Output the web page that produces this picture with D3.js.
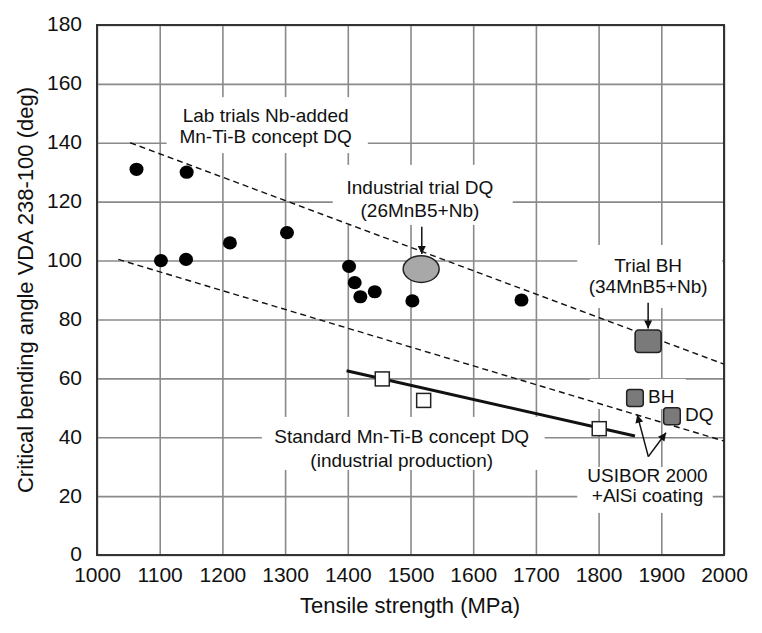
<!DOCTYPE html>
<html>
<head>
<meta charset="utf-8">
<script src="https://cdn.jsdelivr.net/npm/d3@7"></script>
<style>
  body { margin: 0; background: #fff; }
  svg text { font-family: "Liberation Sans", Arial, sans-serif; fill: #111; }
</style>
</head>
<body>
<svg width="762" height="633"></svg>
<script>
// axis ticks
var xTicks = [1000, 1100, 1200, 1300, 1400, 1500, 1600, 1700, 1800, 1900, 2000];
var yTicks = [0, 20, 40, 60, 80, 100, 120, 140, 160, 180];

// lab trials, Nb-added Mn-Ti-B concept DQ (black dots)
var labStrength = [1063, 1143, 1102, 1142, 1212, 1303, 1402, 1411, 1420, 1443, 1503, 1677];
var labAngle    = [131, 130, 100, 100.4, 106, 109.5, 98, 92.5, 87.7, 89.4, 86.3, 86.6];

// industrial trial DQ (grey ellipse)
var industrialStrength = [1517];
var industrialAngle = [97.1];

// standard Mn-Ti-B concept DQ (open squares + trend)
var standardStrength = [1455, 1521, 1801];
var standardAngle    = [59.8, 52.5, 42.9];
var standardTrendStrength = [1398, 1858];
var standardTrendAngle    = [62.6, 40.4];

// scatter band (dashed)
var upperBandStrength = [1053, 2000];
var upperBandAngle    = [140, 64.8];
var lowerBandStrength = [1034, 2000];
var lowerBandAngle    = [100.4, 38.7];

// trial BH and USIBOR 2000
var trialStrength = [1879];
var trialAngle = [72.6];
var usiborGrade    = ["BH", "DQ"];
var usiborStrength = [1858, 1917];
var usiborAngle    = [53.3, 47.1];

var svg = d3.select('svg');
var x = d3.scaleLinear().domain([1000, 2000]).range([97, 724]);
var y = d3.scaleLinear().domain([0, 180]).range([555, 25]);

// gridlines
svg.append('g').attr('transform', 'translate(0,555)')
   .call(d3.axisBottom(x).tickValues(xTicks).tickSize(-530).tickFormat(''))
   .call(function(g) { g.select('.domain').remove(); })
   .selectAll('line').attr('stroke', '#8a8a8a').attr('stroke-width', 1.6);
svg.append('g').attr('transform', 'translate(97,0)')
   .call(d3.axisLeft(y).tickValues(yTicks).tickSize(-627).tickFormat(''))
   .call(function(g) { g.select('.domain').remove(); })
   .selectAll('line').attr('stroke', '#8a8a8a').attr('stroke-width', 1.6);

// white label backgrounds cut the grid
var boxes = [
  [1111, 1432, 155.5, 136.5],
  [1376, 1663, 132.5, 112.1],
  [1766, 1997, 105.3, 83.9],
  [1263, 1714, 46.9, 28.9],
  [1766, 1982, 29.9, 14.3],
  [1786, 1939, 59.8, 49.6],
  [1936, 1997, 51, 42.5]
];
svg.append('g').selectAll('rect').data(boxes).join('rect')
   .attr('x', function(d) { return x(d[0]); })
   .attr('y', function(d) { return y(d[2]); })
   .attr('width', function(d) { return x(d[1]) - x(d[0]); })
   .attr('height', function(d) { return y(d[3]) - y(d[2]); })
   .attr('fill', '#fff');

// frame
svg.append('rect').attr('x', 97).attr('y', 25).attr('width', 627).attr('height', 530)
   .attr('fill', 'none').attr('stroke', '#333').attr('stroke-width', 2);

// tick labels
svg.append('g').attr('transform', 'translate(0,555)')
   .call(d3.axisBottom(x).tickValues(xTicks).tickSize(0).tickPadding(12).tickFormat(d3.format('d')))
   .call(function(g) { g.select('.domain').remove(); })
   .selectAll('text').attr('font-size', 21).attr('font-family', null).attr('fill', '#111');
svg.append('g').attr('transform', 'translate(97,0)')
   .call(d3.axisLeft(y).tickValues(yTicks).tickSize(0).tickPadding(15).tickFormat(d3.format('d')))
   .call(function(g) { g.select('.domain').remove(); })
   .selectAll('text').attr('font-size', 21).attr('font-family', null).attr('fill', '#111')
   .attr('dy', '0.28em');

svg.append('text').attr('x', 410).attr('y', 613).attr('text-anchor', 'middle')
   .attr('font-size', 22).text('Tensile strength (MPa)');
svg.append('text').attr('transform', 'translate(33,290) rotate(-90)').attr('text-anchor', 'middle')
   .attr('font-size', 22).text('Critical bending angle VDA 238-100 (deg)');

// arrow head
svg.append('defs').append('marker')
   .attr('id', 'head').attr('viewBox', '0 0 10 10').attr('refX', 10).attr('refY', 5)
   .attr('markerWidth', 9).attr('markerHeight', 8).attr('markerUnits', 'userSpaceOnUse')
   .attr('orient', 'auto')
   .append('path').attr('d', 'M0,0L10,5L0,10Z').attr('fill', '#111');

var line = d3.line().x(function(d) { return x(d[0]); }).y(function(d) { return y(d[1]); });

// dashed band
[[upperBandStrength, upperBandAngle], [lowerBandStrength, lowerBandAngle]].forEach(function(b) {
  svg.append('path').datum(d3.zip(b[0], b[1])).attr('d', line)
     .attr('fill', 'none').attr('stroke', '#111').attr('stroke-width', 1.4)
     .attr('stroke-dasharray', '6,4');
});

// standard trend
svg.append('path').datum(d3.zip(standardTrendStrength, standardTrendAngle)).attr('d', line)
   .attr('fill', 'none').attr('stroke', '#111').attr('stroke-width', 3);

// arrows
var arrows = [
  [[1518, 111.5], [1518, 102.2]],
  [[1879, 85.7], [1879, 76.9]],
  [[1879.3, 33.4], [1861.7, 47.6]],
  [[1879.3, 33.4], [1907.5, 41.5]]
];
svg.append('g').selectAll('path').data(arrows).join('path')
   .attr('d', line).attr('stroke', '#111').attr('stroke-width', 1.5)
   .attr('fill', 'none').attr('marker-end', 'url(#head)');

// lab dots
svg.append('g').selectAll('ellipse').data(d3.zip(labStrength, labAngle)).join('ellipse')
   .attr('cx', function(d) { return x(d[0]); }).attr('cy', function(d) { return y(d[1]); })
   .attr('rx', 7).attr('ry', 6.6).attr('fill', '#000');

// industrial trial ellipse
svg.append('g').selectAll('ellipse').data(d3.zip(industrialStrength, industrialAngle)).join('ellipse')
   .attr('cx', function(d) { return x(d[0]); }).attr('cy', function(d) { return y(d[1]); })
   .attr('rx', 18).attr('ry', 13.3).attr('fill', '#a8a8a8').attr('stroke', '#222').attr('stroke-width', 1.5);

// standard open squares
svg.append('g').selectAll('rect').data(d3.zip(standardStrength, standardAngle)).join('rect')
   .attr('x', function(d) { return x(d[0]) - 7; }).attr('y', function(d) { return y(d[1]) - 7; })
   .attr('width', 14).attr('height', 14)
   .attr('fill', '#fff').attr('stroke', '#222').attr('stroke-width', 1.5);

// trial BH square
svg.append('g').selectAll('rect').data(d3.zip(trialStrength, trialAngle)).join('rect')
   .attr('x', function(d) { return x(d[0]) - 13; }).attr('y', function(d) { return y(d[1]) - 11.3; })
   .attr('width', 26).attr('height', 22.6).attr('rx', 3.5)
   .attr('fill', '#7a7a7a').attr('stroke', '#222').attr('stroke-width', 1.6);

// USIBOR squares and grade labels
var usibor = svg.append('g').selectAll('g').data(d3.zip(usiborStrength, usiborAngle, usiborGrade)).join('g')
   .attr('transform', function(d) { return 'translate(' + x(d[0]) + ',' + y(d[1]) + ')'; });
usibor.append('rect').attr('x', -8.3).attr('y', -8.5).attr('width', 16.6).attr('height', 17).attr('rx', 3)
   .attr('fill', '#7a7a7a').attr('stroke', '#222').attr('stroke-width', 1.5);
usibor.append('text').attr('x', 13).attr('y', 5).attr('font-size', 19)
   .text(function(d) { return d[2]; });

// annotation texts
var notes = [
  {x: 1269, y: 147.0, lh: 21, lines: ['Lab trials Nb-added', 'Mn-Ti-B concept DQ']},
  {x: 1515, y: 122.5, lh: 22.4, lines: ['Industrial trial DQ', '(26MnB5+Nb)']},
  {x: 1879, y: 96.2, lh: 21.6, lines: ['Trial BH', '(34MnB5+Nb)']},
  {x: 1486, y: 38.0, lh: 23.4, lines: ['Standard Mn-Ti-B concept DQ', '(industrial production)']},
  {x: 1878, y: 24.9, lh: 20, lines: ['USIBOR 2000', '+AlSi coating']}
];
notes.forEach(function(n) {
  var t = svg.append('text').attr('text-anchor', 'middle').attr('font-size', 19);
  n.lines.forEach(function(s, i) {
    t.append('tspan').attr('x', x(n.x)).attr('y', y(n.y) + i * n.lh).text(s);
  });
});
</script>
</body>
</html>
